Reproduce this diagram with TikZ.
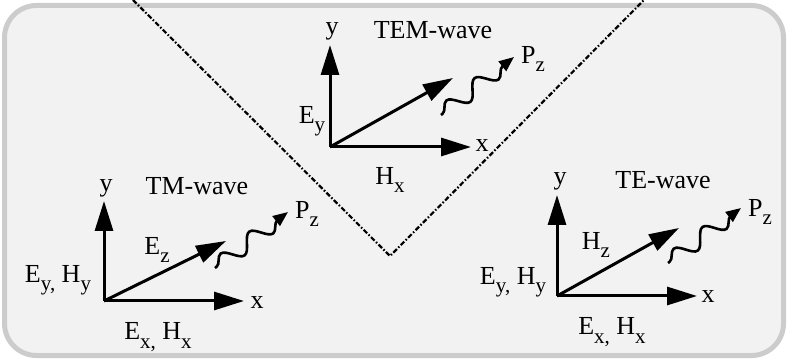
\documentclass[tikz,border=0pt]{standalone}
\usepackage{fontspec}
\setmainfont{Liberation Serif}
\usetikzlibrary{arrows.meta,decorations.pathmorphing}
\newcommand\sbx[1]{\raisebox{-0.32em}{\fontsize{21}{21}\selectfont #1}}
\tikzset{
  lbl/.style={inner sep=0pt, font=\fontsize{26}{26}\selectfont},
  axis/.style={line width=3pt, -{Triangle[length=30pt,width=18pt]}},
  wave/.style={line width=2.6pt, decorate,
    decoration={snake, amplitude=8pt, segment length=36pt, pre length=2pt, post length=10pt},
    -{Triangle[length=15pt,width=12pt]}},
  frame/.style={draw=black!20, line width=5pt, fill=black!5, rounded corners=32pt},
  vline/.style={line width=2.2pt, dash pattern=on 5pt off 2pt on 1.5pt off 2pt}
}
\begin{document}
\begin{tikzpicture}[x=1pt,y=-1pt]
\useasboundingbox (0,0) rectangle (787,363);
\draw[frame] (4.5,5.5) rectangle (783.5,355.5);
% V line
\coordinate (vl) at (133,0);
\coordinate (vb) at (390,256);
\coordinate (vr) at (644,0);
\draw[vline] (vl) -- (vb) -- (vr);

% TEM
\coordinate (o1) at (330,147);
\coordinate (y1) at (330,45);
\coordinate (x1) at (471,147);
\coordinate (d1) at (453,78);
\coordinate (ws1) at (441,115);
\coordinate (we1) at (514,57);
\draw[axis] (o1) -- (y1);
\draw[axis] (o1) -- (x1);
\draw[axis] (o1) -- (d1);
\draw[wave] (ws1) -- (we1);
\node[lbl] (ly1) at (332,31) {y};
\node[lbl] (t1) at (433,30) {TEM-wave};
\node[lbl] (pz1) at (533,59) {P\sbx{z}};
\node[lbl] (ey1) at (312,121) {E\sbx{y}};
\node[lbl] (hx1) at (390,180) {H\sbx{x}};
\node[lbl] (lx1) at (482,146) {x};

% TM
\coordinate (o2) at (104,301);
\coordinate (y2) at (104,201);
\coordinate (x2) at (244,301);
\coordinate (d2) at (226,241);
\coordinate (ws2) at (215,268);
\coordinate (we2) at (288,212);
\draw[axis] (o2) -- (y2);
\draw[axis] (o2) -- (x2);
\draw[axis] (o2) -- (d2);
\draw[wave] (ws2) -- (we2);
\node[lbl] (ly2) at (106,188) {y};
\node[lbl] (t2) at (197,186) {TM-wave};
\node[lbl] (pz2) at (307,214) {P\sbx{z}};
\node[lbl] (ez2) at (157,250) {E\sbx{z}};
\node[lbl] (eh2) at (58,280) {E\sbx{y,} H\sbx{y}};
\node[lbl] (ehx2) at (158,337) {E\sbx{x,} H\sbx{x}};
\node[lbl] (lx2) at (257,303) {x};

% TE
\coordinate (o3) at (557,296);
\coordinate (y3) at (557,195);
\coordinate (x3) at (697,296);
\coordinate (d3) at (679,228);
\coordinate (ws3) at (668,263);
\coordinate (we3) at (741,208);
\draw[axis] (o3) -- (y3);
\draw[axis] (o3) -- (x3);
\draw[axis] (o3) -- (d3);
\draw[wave] (ws3) -- (we3);
\node[lbl] (ly3) at (560,181) {y};
\node[lbl] (t3) at (663,180) {TE-wave};
\node[lbl] (pz3) at (760,212) {P\sbx{z}};
\node[lbl] (hz3) at (596,245) {H\sbx{z}};
\node[lbl] (eh3) at (513,282) {E\sbx{y,} H\sbx{y}};
\node[lbl] (ehx3) at (612,332) {E\sbx{x,} H\sbx{x}};
\node[lbl] (lx3) at (708,297) {x};
\end{tikzpicture}
\end{document}
